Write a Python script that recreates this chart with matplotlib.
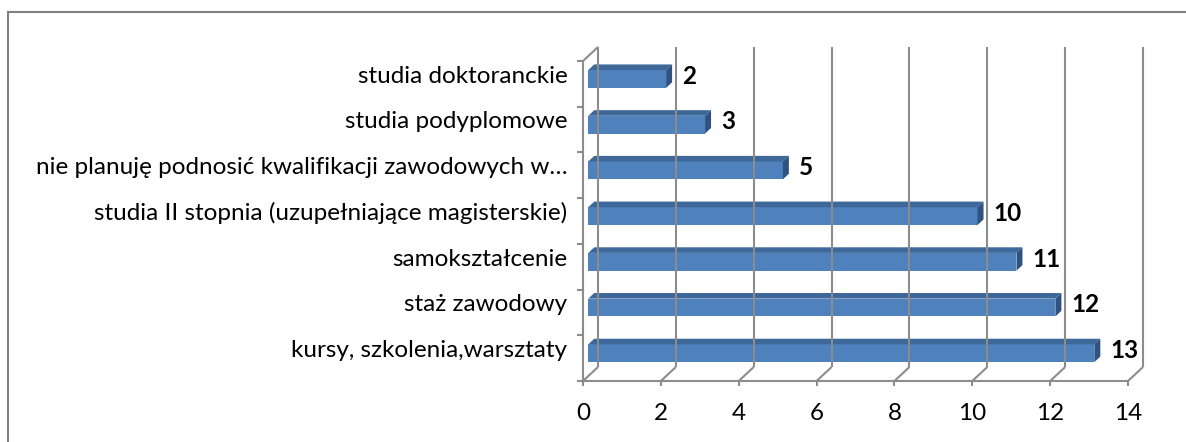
import matplotlib
matplotlib.use("Agg")
import matplotlib.pyplot as plt
from matplotlib.patches import Polygon
from matplotlib.lines import Line2D

categories = [
    "kursy, szkolenia,warsztaty",
    "staż zawodowy",
    "samokształcenie",
    "studia II stopnia (uzupełniające magisterskie)",
    "nie planuję podnosić kwalifikacji zawodowych w…",
    "studia podyplomowe",
    "studia doktoranckie",
]
values = [13, 12, 11, 10, 5, 3, 2]
xticks = [0, 2, 4, 6, 8, 10, 12, 14]

plt.rcParams["font.family"] = ["Lato", "DejaVu Sans"]

fig = plt.figure(figsize=(11.86, 4.42), dpi=100)
ax = fig.add_axes([583 / 1186, 1 - 381 / 442, 545 / 1186, 320 / 442])
ax.set_xlim(0, 14)
ax.set_ylim(-0.5, len(categories) - 0.5)
ax.axis("off")

# depth of the 3d box in data units (about 15 px right, 14 px up)
DX = 15 * 14 / 545
DY = 14 * len(categories) / 320
grid_c = "#8c8c8c"
lw = 1.5
y0, y1 = -0.5, len(categories) - 0.5
fs = 17.5

def line(xs, ys, **kw):
    ax.add_line(Line2D(xs, ys, color=grid_c, lw=lw, clip_on=False,
                       solid_capstyle="butt", **kw))

# back wall gridlines and floor diagonals
for t in xticks:
    line([t + DX, t + DX], [y0 + DY, y1 + DY])
    line([t, t + DX], [y0, y0 + DY])
    line([t, t], [y0, y0 - 0.11])
    ax.text(t, y0 - 0.7, str(t), ha="center", va="center", fontsize=fs)

# front axes
line([0, 14], [y0, y0])
line([0, 0], [y0, y1])
line([0, DX], [y1, y1 + DY])
for k in range(len(categories) + 1):
    line([0, -0.15], [y0 + k, y0 + k])

# bars as 3d boxes
h = 0.39
d1, d2 = 0.35, 0.75
front_c, top_c, side_c = "#4F81BD", "#3E6899", "#2F5282"
for i, (cat, v) in enumerate(zip(categories, values)):
    yc = i + d1 * DY
    fx0, fx1 = d1 * DX, v + d1 * DX
    bx0, bx1 = d2 * DX, v + d2 * DX
    yb = i + d2 * DY
    ax.add_patch(Polygon([(fx0, yc - h / 2), (fx1, yc - h / 2), (fx1, yc + h / 2), (fx0, yc + h / 2)],
                         closed=True, fc=front_c, ec="none", clip_on=False))
    ax.add_patch(Polygon([(fx0, yc + h / 2), (fx1, yc + h / 2), (bx1, yb + h / 2), (bx0, yb + h / 2)],
                         closed=True, fc=top_c, ec="none", clip_on=False))
    ax.add_patch(Polygon([(fx1, yc - h / 2), (bx1, yb - h / 2), (bx1, yb + h / 2), (fx1, yc + h / 2)],
                         closed=True, fc=side_c, ec="none", clip_on=False))
    ax.text(bx1 + 0.25, (yc + yb) / 2, str(v), ha="left", va="center",
            fontsize=fs, fontweight="bold")
    ax.text(-0.4, (yc + yb) / 2, cat, ha="right", va="center", fontsize=fs)

# outer frame (top and left only visible)
fig.add_artist(Line2D([8 / 1186, 1], [1 - 12 / 442, 1 - 12 / 442], color="#808080", lw=1.5))
fig.add_artist(Line2D([8 / 1186, 8 / 1186], [0, 1 - 12 / 442], color="#808080", lw=1.5))

fig.savefig("out.png", dpi=100)
